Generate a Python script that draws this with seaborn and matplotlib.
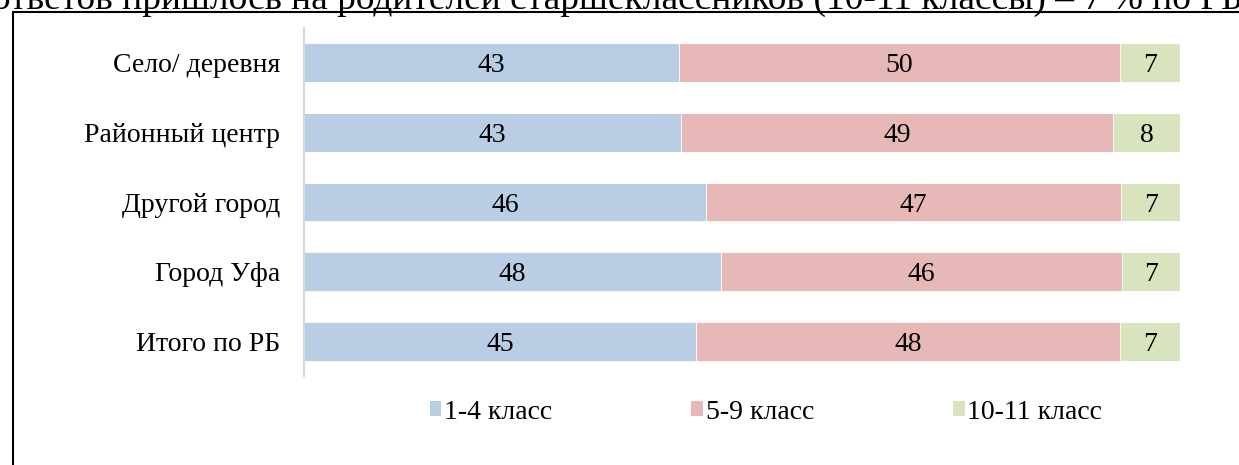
import matplotlib
matplotlib.use('Agg')
import matplotlib.pyplot as plt
import numpy as np
import pandas as pd
import seaborn as sns
from matplotlib.lines import Line2D
from matplotlib.patches import Patch

# categories top to bottom
places = ['Село/ деревня', 'Районный центр', 'Другой город', 'Город Уфа', 'Итого по РБ']
grade_1_4 = [42.8, 43.0, 45.9, 47.6, 44.8]
grade_5_9 = [50.3, 49.4, 47.4, 45.8, 48.3]
grade_10_11 = [6.9, 7.6, 6.7, 6.6, 6.9]
series_names = ['1-4 класс', '5-9 класс', '10-11 класс']
series_colors = ['#B9CDE5', '#E6B9B8', '#D7E4BD']

df = pd.DataFrame({'place': places, 'a': grade_1_4, 'b': grade_5_9, 'c': grade_10_11})
df['ab'] = df['a'] + df['b']
df['abc'] = df['ab'] + df['c']

sns.set_style('white')
plt.rcParams['font.family'] = ['Liberation Serif', 'DejaVu Serif']
plt.rcParams['text.color'] = 'black'
plt.rcParams['ytick.color'] = 'black'

fig = plt.figure(figsize=(12.39, 4.65), dpi=100)
ax = fig.add_axes([304 / 1239, 1 - 376 / 465, (1180 - 304) / 1239, (376 - 28) / 465])

# stacked bars drawn as layered cumulative totals
for col, color in zip(['abc', 'ab', 'a'], series_colors[::-1]):
    sns.barplot(data=df, x=col, y='place', order=places, color=color, width=0.56,
                edgecolor='white', linewidth=0.6, saturation=1, ax=ax)

starts = [np.zeros(len(df)), df['a'].values, df['ab'].values]
for vals, left in zip([df['a'].values, df['b'].values, df['c'].values], starts):
    for i, (v, l) in enumerate(zip(vals, left)):
        ax.text(l + v / 2, i, f'{v:.0f}', ha='center', va='center_baseline', fontsize=20,
                color='black')

ax.set_xlim(0, 100)
ax.set_ylim(4.5, -0.5)
ax.set_xlabel('')
ax.set_ylabel('')
ax.set_xticks([])
ax.tick_params(axis='y', length=0, pad=17, labelsize=20, labelcolor='black')
for s in ['top', 'right', 'bottom']:
    ax.spines[s].set_visible(False)
ax.spines['left'].set_color('#D9D9D9')
ax.spines['left'].set_linewidth(1.5)

handles = [Patch(facecolor=c, edgecolor='none') for c in series_colors]
fig.legend(handles, series_names, loc='center', bbox_to_anchor=(766 / 1239, 1 - 412 / 465),
           ncol=3, frameon=False, fontsize=20, handlelength=0.42, handleheight=0.42,
           handletextpad=0.1, columnspacing=5.0)

# page frame and cut-off text above the chart
fig.add_artist(Line2D([12.5 / 1239, 12.5 / 1239], [0, 1 - 12 / 465], color='black', lw=1.5,
                      transform=fig.transFigure))
fig.add_artist(Line2D([12.5 / 1239, 1], [1 - 12 / 465, 1 - 12 / 465], color='black', lw=1.5,
                      transform=fig.transFigure))
fig.text(-8 / 1239, 1 - 9 / 465,
         'ответов пришлось на родителей старшеклассников (10-11 классы) – 7 % по РБ',
         ha='left', va='baseline', fontsize=27, color='black')

fig.savefig('out.png', dpi=100)
